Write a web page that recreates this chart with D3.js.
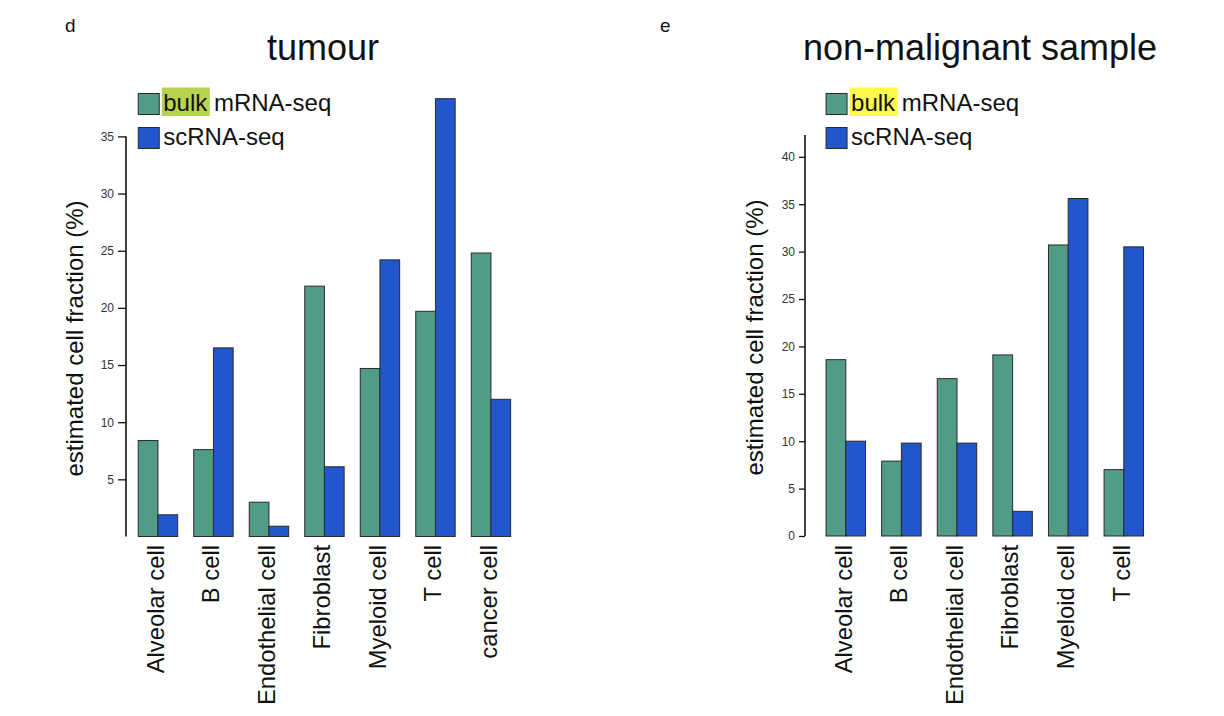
<!DOCTYPE html>
<html>
<head>
<meta charset="utf-8">
<script src="https://cdn.jsdelivr.net/npm/d3@7"></script>
<style>
  body { margin: 0; background: #fff; }
  svg { display: block; font-family: "Liberation Sans", Arial, Helvetica, sans-serif; }
</style>
</head>
<body>
<svg id="chart" width="1224" height="716"></svg>
<script>
// ---- data ----
const seriesNames = ["bulk mRNA-seq", "scRNA-seq"];
const tumourCategories = ["Alveolar cell", "B cell", "Endothelial cell", "Fibroblast", "Myeloid cell", "T cell", "cancer cell"];
const tumourBulk = [8.4, 7.6, 3.0, 21.9, 14.7, 19.7, 24.8];
const tumourSc   = [1.9, 16.5, 0.9, 6.1, 24.2, 38.3, 12.0];
const tumourTicks = [5, 10, 15, 20, 25, 30, 35];
const tumourAxisMax = 35;

const normalCategories = ["Alveolar cell", "B cell", "Endothelial cell", "Fibroblast", "Myeloid cell", "T cell"];
const normalBulk = [18.6, 7.9, 16.6, 19.1, 30.7, 7.0];
const normalSc   = [10.0, 9.8, 9.8, 2.6, 35.6, 30.5];
const normalTicks = [0, 5, 10, 15, 20, 25, 30, 35, 40];
const normalAxisMax = 42.3;

const colors = ["#519c88", "#2156cc"];
const highlightColors = ["#b7d24e", "#fff94a"];

const svg = d3.select("#chart");

function panel(opts) {
  const g = svg.append("g");
  const x = d3.scaleBand().domain(opts.categories).range(opts.xRange)
    .paddingInner(0.29).paddingOuter(0.145);
  const xs = d3.scaleBand().domain([0, 1]).range([0, x.bandwidth()]);
  const y = d3.scaleLinear().domain(opts.yDomain).range(opts.yRange);

  // panel letter
  g.append("text").attr("x", opts.letterX).attr("y", 32)
    .attr("font-size", 19).attr("fill", "#111").text(opts.letter);
  // title
  g.append("text").attr("x", opts.titleX).attr("y", 60).attr("text-anchor", "middle")
    .attr("font-size", 36).attr("fill", "#111").text(opts.title);

  // bars
  const rows = opts.categories.map((c, i) => ({ c, v: [opts.bulk[i], opts.sc[i]] }));
  const grp = g.selectAll("g.grp").data(rows).enter().append("g")
    .attr("transform", d => `translate(${x(d.c)},0)`);
  grp.selectAll("rect").data(d => d.v.map((v, k) => ({ v, k }))).enter().append("rect")
    .attr("x", d => xs(d.k)).attr("width", xs.bandwidth())
    .attr("y", d => y(d.v)).attr("height", d => y(0) - y(d.v))
    .attr("fill", d => colors[d.k]).attr("stroke", "#2a2a2a").attr("stroke-width", 1);

  // y axis
  const ax = g.append("g").attr("transform", `translate(${opts.axisX},0)`)
    .call(d3.axisLeft(y).tickValues(opts.ticks).tickSize(opts.tickSize).tickSizeOuter(0).tickPadding(4));
  ax.select(".domain").remove();
  ax.selectAll(".tick line").attr("stroke", "#111").attr("stroke-width", 1.3);
  ax.selectAll(".tick text").attr("font-size", 12).attr("fill", "#333")
    .attr("font-family", "\"Liberation Sans\", Arial, sans-serif");
  ax.append("line").attr("x1", 0).attr("x2", 0)
    .attr("y1", y(0)).attr("y2", y(opts.axisMax))
    .attr("stroke", "#111").attr("stroke-width", 1.6);

  // y title
  const yMid = (y(0) + y(opts.axisMax)) / 2;
  g.append("text").attr("transform", `translate(${opts.yTitleX},${yMid + 2}) rotate(-90)`)
    .attr("text-anchor", "middle").attr("font-size", 24).attr("fill", "#111")
    .text("estimated cell fraction (%)");

  // x labels
  g.selectAll("text.xl").data(opts.categories).enter().append("text")
    .attr("transform", d => `translate(${x(d) + x.bandwidth() / 2 - 2},545) rotate(-90)`)
    .attr("text-anchor", "end").attr("dy", "0.33em")
    .attr("font-size", 23.8).attr("fill", "#111").text(d => d);

  // legend
  const lx = x(opts.categories[0]);
  const lg = g.append("g");
  seriesNames.forEach((name, k) => {
    const ly = 93.5 + k * 34;
    lg.append("rect").attr("x", lx).attr("y", ly).attr("width", 21).attr("height", 21)
      .attr("fill", colors[k]).attr("stroke", "#2a2a2a").attr("stroke-width", 1);
    const t = lg.append("text").attr("x", lx + 25).attr("y", ly + 17)
      .attr("font-size", 24).attr("fill", "#111");
    if (k === 0) {
      const parts = name.split(" ");
      const first = t.append("tspan").text(parts[0]);
      t.append("tspan").text(" " + parts.slice(1).join(" "));
      const bb = first.node().getBBox();
      lg.insert("rect", "text").attr("x", bb.x - 1.5).attr("y", ly - 6)
        .attr("width", bb.width + 3).attr("height", 28.5)
        .attr("fill", opts.highlight);
    } else {
      t.text(name);
    }
  });
}

panel({
  letter: "d", letterX: 65, title: "tumour", titleX: 323,
  categories: tumourCategories, bulk: tumourBulk, sc: tumourSc,
  xRange: [130.2, 518.7], yDomain: [0, 35], yRange: [536.5, 136.4],
  ticks: tumourTicks, axisMax: tumourAxisMax, axisX: 126, tickSize: 8,
  yTitleX: 83, highlight: highlightColors[0]
});
panel({
  letter: "e", letterX: 660, title: "non-malignant sample", titleX: 980,
  categories: normalCategories, bulk: normalBulk, sc: normalSc,
  xRange: [818, 1151.6], yDomain: [0, 40], yRange: [536, 156.8],
  ticks: normalTicks, axisMax: normalAxisMax, axisX: 805, tickSize: 6,
  yTitleX: 763, highlight: highlightColors[1]
});
</script>
</body>
</html>
